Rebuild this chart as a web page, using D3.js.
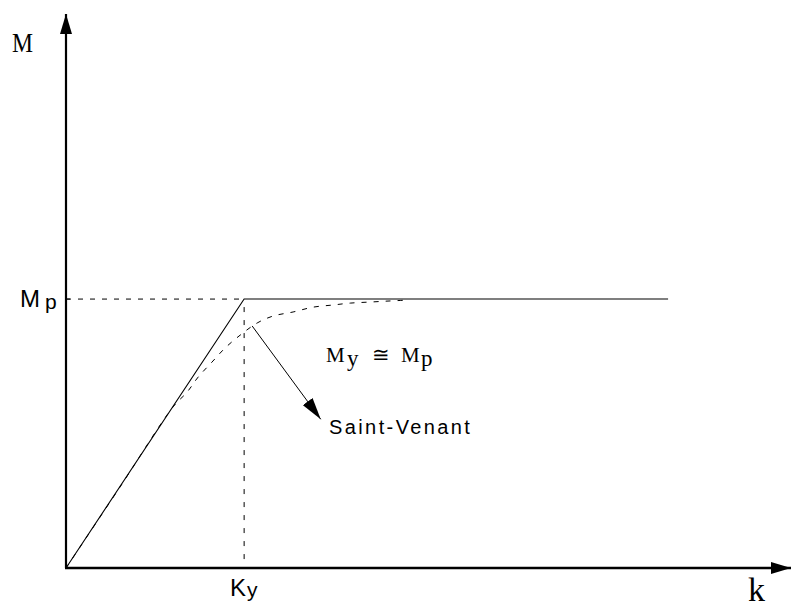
<!DOCTYPE html>
<html>
<head>
<meta charset="utf-8">
<script src="https://cdn.jsdelivr.net/npm/d3@7"></script>
<style>
  html, body { margin: 0; padding: 0; background: #fff; }
  svg { display: block; }
  .sans { font-family: "Liberation Sans", Arial, Helvetica, sans-serif; }
  .serif { font-family: "Liberation Serif", "Times New Roman", serif; }
</style>
</head>
<body>
<svg id="chart" width="791" height="610"></svg>
<script>
// Moment–curvature diagram: elastic-perfectly-plastic model vs Saint-Venant curve.
// Values are in normalised units (k / Ky, M / Mp).
const kY = 1;
const mP = 1;
const kMax = 4.07;
const mMax = 2.06;

// Bilinear elastic–plastic law: (k, M)
const bilinearK = [0, 1, 3.38];
const bilinearM = [0, 1, 1];

// Saint-Venant (gradual plastification) curve: (k, M)
const saintVenantK = [0, 0.30, 0.601, 0.680, 0.742, 0.820, 0.893, 0.978, 1.073, 1.163, 1.275, 1.388, 1.500, 1.596, 1.708, 1.820, 1.916];
const saintVenantM = [0, 0.298, 0.599, 0.654, 0.710, 0.766, 0.818, 0.866, 0.911, 0.937, 0.952, 0.970, 0.978, 0.985, 0.989, 0.993, 0.996];

const svg = d3.select("#chart");

const x = d3.scaleLinear().domain([0, kMax]).range([66, 791]);
const y = d3.scaleLinear().domain([0, mMax]).range([568, 14]);

// Arrow markers for the axes and the annotation pointer
const defs = svg.append("defs");
defs.append("marker")
  .attr("id", "axisHead")
  .attr("viewBox", "0 0 20 12")
  .attr("refX", 20).attr("refY", 6)
  .attr("markerUnits", "userSpaceOnUse")
  .attr("markerWidth", 20).attr("markerHeight", 12)
  .attr("orient", "auto")
  .append("path").attr("d", "M0,0 L20,6 L0,12 Z").attr("fill", "#000");
defs.append("marker")
  .attr("id", "pointerHead")
  .attr("viewBox", "0 0 22 12")
  .attr("refX", 22).attr("refY", 6)
  .attr("markerUnits", "userSpaceOnUse")
  .attr("markerWidth", 22).attr("markerHeight", 12)
  .attr("orient", "auto")
  .append("path").attr("d", "M0,0 L22,6 L0,12 Z").attr("fill", "#000");

// Reference dashed lines at Mp and Ky
svg.append("line")
  .attr("x1", x(0)).attr("x2", x(kY))
  .attr("y1", y(mP)).attr("y2", y(mP))
  .attr("stroke", "#000").attr("stroke-width", 1)
  .attr("stroke-dasharray", "5,7");
svg.append("line")
  .attr("x1", x(kY)).attr("x2", x(kY))
  .attr("y1", y(mP) + 8).attr("y2", y(0))
  .attr("stroke", "#000").attr("stroke-width", 1)
  .attr("stroke-dasharray", "5,8");

// Bilinear law
const line = d3.line().x(d => x(d[0])).y(d => y(d[1]));
svg.append("path")
  .datum(bilinearK.map((k, i) => [k, bilinearM[i]]))
  .attr("d", line)
  .attr("fill", "none").attr("stroke", "#000").attr("stroke-width", 1.1);

// Saint-Venant curve
const curve = d3.line().x(d => x(d[0])).y(d => y(d[1])).curve(d3.curveCatmullRom.alpha(0.5));
svg.append("path")
  .datum(saintVenantK.map((k, i) => [k, saintVenantM[i]]))
  .attr("d", curve)
  .attr("fill", "none").attr("stroke", "#000").attr("stroke-width", 1)
  .attr("stroke-dasharray", "5,7");

// Axes
svg.append("line")
  .attr("x1", x(0)).attr("y1", y(0))
  .attr("x2", x(0)).attr("y2", y(mMax))
  .attr("stroke", "#000").attr("stroke-width", 2.2)
  .attr("marker-end", "url(#axisHead)");
svg.append("line")
  .attr("x1", x(0) - 1).attr("y1", y(0))
  .attr("x2", x(kMax)).attr("y2", y(0))
  .attr("stroke", "#000").attr("stroke-width", 2.5)
  .attr("marker-end", "url(#axisHead)");

// Small tick at Mp on the vertical axis
svg.append("line")
  .attr("x1", x(0)).attr("x2", x(0) + 4)
  .attr("y1", y(mP)).attr("y2", y(mP))
  .attr("stroke", "#000").attr("stroke-width", 1);

// Pointer from the curve to its label
svg.append("line")
  .attr("x1", x(1.045)).attr("y1", y(0.90))
  .attr("x2", x(1.43)).attr("y2", y(0.553))
  .attr("stroke", "#000").attr("stroke-width", 1)
  .attr("marker-end", "url(#pointerHead)");

// Axis titles
svg.append("text").attr("class", "serif")
  .attr("x", 12).attr("y", 52)
  .attr("font-size", 28)
  .attr("textLength", 21).attr("lengthAdjust", "spacingAndGlyphs")
  .text("M");
svg.append("text").attr("class", "serif")
  .attr("x", 748).attr("y", 601)
  .attr("font-size", 34)
  .text("k");

// Mp and Ky labels
const mpLabel = svg.append("text").attr("class", "sans")
  .attr("x", 20).attr("y", y(mP) + 8).attr("font-size", 24);
mpLabel.append("tspan").text("M");
mpLabel.append("tspan").attr("dx", 5).attr("dy", 2).attr("font-size", 21).text("p");

const kyLabel = svg.append("text").attr("class", "sans")
  .attr("x", 230).attr("y", 596).attr("font-size", 24);
kyLabel.append("tspan").text("K");
kyLabel.append("tspan").attr("dx", 1).attr("dy", 1).attr("font-size", 21).text("y");

// My ≅ Mp annotation
const eq = svg.append("text").attr("class", "serif")
  .attr("y", 362).attr("font-size", 21);
eq.append("tspan").attr("x", 326).text("M");
eq.append("tspan").attr("x", 347).attr("dy", 4).attr("font-size", 23).text("y");
eq.append("tspan").attr("x", 372).attr("dy", -4).text("≅");
eq.append("tspan").attr("x", 401).text("M");
eq.append("tspan").attr("x", 421).attr("dy", 4).attr("font-size", 23).text("p");

// Curve name
svg.append("text").attr("class", "sans")
  .attr("x", 329).attr("y", 434)
  .attr("font-size", 20).attr("letter-spacing", 2.4)
  .text("Saint-Venant");
</script>
</body>
</html>
